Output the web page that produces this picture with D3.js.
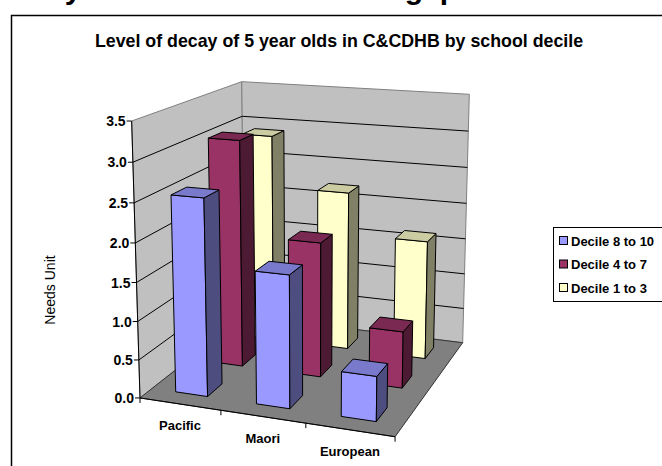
<!DOCTYPE html>
<html>
<head>
<meta charset="utf-8">
<script src="https://cdn.jsdelivr.net/npm/d3@7"></script>
<style>
  html, body { margin: 0; padding: 0; background: #fff; }
  svg { display: block; font-family: "Liberation Sans", Arial, sans-serif; }
</style>
</head>
<body>
<svg id="chart" width="662" height="466"></svg>
<script>
// ---- data ----
const categories = ["Pacific", "Maori", "European"];
const seriesNames = ["Decile 8 to 10", "Decile 4 to 7", "Decile 1 to 3"];
const decile8to10 = [2.55, 1.70, 0.57];
const decile4to7  = [3.05, 1.80, 0.75];
const decile1to3  = [2.90, 2.20, 1.63];
const yTicks = [0, 0.5, 1.0, 1.5, 2.0, 2.5, 3.0, 3.5];
const yTickLabels = ["0.0", "0.5", "1.0", "1.5", "2.0", "2.5", "3.0", "3.5"];
const seriesValues = [decile8to10, decile4to7, decile1to3];

// ---- styling ----
const faceColors = [
  { front: "#9999FF", top: "#7A7ACC", side: "#4D4D80" },
  { front: "#993366", top: "#7A2952", side: "#4D1A33" },
  { front: "#FFFFCC", top: "#CCCCA3", side: "#808066" }
];

// ---- 3D scales (unit box: x = category, y = value, z = series depth) ----
const xBand = d3.scaleBand().domain(categories).range([0, 1]).paddingInner(0.6).paddingOuter(0.3);
const zBand = d3.scaleBand().domain(seriesNames).range([0, 1]).paddingInner(0.6).paddingOuter(0.3);
const yVal = d3.scaleLinear().domain([0, 3.5]).range([0, 1]);

// Placement of the plot box on the page: unit-box corners -> screen points.
const boxPlacement = [
  [[0, 0, 0], [140.0, 398.0]],
  [[0, 1, 0], [131.7, 121.0]],
  [[0, 1, 1], [241.7, 81.7]],
  [[1, 1, 1], [469.3, 94.3]],
  [[1, 0, 1], [462.7, 342.7]],
  [[1, 0, 0], [395.0, 436.7]],
  [[0, 0, 1], [244.5, 315.7]],
  [[1, 1, 0], [399.6, 139.5]]
];

// Perspective camera fitted to the box placement (direct linear transform).
function fitPerspective(pairs) {
  const cx = 300, cy = 250, s = 300;
  const rows = [], rhs = [];
  pairs.forEach(([[X, Y, Z], [u0, v0]]) => {
    const u = (u0 - cx) / s, v = (v0 - cy) / s;
    rows.push([X, Y, Z, 1, 0, 0, 0, 0, -u * X, -u * Y, -u * Z]); rhs.push(u);
    rows.push([0, 0, 0, 0, X, Y, Z, 1, -v * X, -v * Y, -v * Z]); rhs.push(v);
  });
  const n = 11;
  const A = Array.from({ length: n }, () => new Array(n).fill(0));
  const b = new Array(n).fill(0);
  rows.forEach((r, k) => {
    for (let i = 0; i < n; i++) {
      b[i] += r[i] * rhs[k];
      for (let j = 0; j < n; j++) A[i][j] += r[i] * r[j];
    }
  });
  for (let c = 0; c < n; c++) {
    let p = c;
    for (let r = c + 1; r < n; r++) if (Math.abs(A[r][c]) > Math.abs(A[p][c])) p = r;
    [A[c], A[p]] = [A[p], A[c]]; [b[c], b[p]] = [b[p], b[c]];
    for (let r = c + 1; r < n; r++) {
      const f = A[r][c] / A[c][c];
      for (let j = c; j < n; j++) A[r][j] -= f * A[c][j];
      b[r] -= f * b[c];
    }
  }
  const m = new Array(n).fill(0);
  for (let i = n - 1; i >= 0; i--) {
    let t = b[i];
    for (let j = i + 1; j < n; j++) t -= A[i][j] * m[j];
    m[i] = t / A[i][i];
  }
  return ([X, Y, Z]) => {
    const w = m[8] * X + m[9] * Y + m[10] * Z + 1;
    return [
      cx + s * (m[0] * X + m[1] * Y + m[2] * Z + m[3]) / w,
      cy + s * (m[4] * X + m[5] * Y + m[6] * Z + m[7]) / w
    ];
  };
}
const project = fitPerspective(boxPlacement);
const poly = pts => pts.map(p => project(p).map(d => d.toFixed(2)).join(",")).join(" ");
const pathOf = pts => "M" + pts.map(p => project(p).map(d => d.toFixed(2)).join(",")).join("L");

const svg = d3.select("#chart");

// Slide heading running off the top of the page
svg.append("text")
  .attr("x", -7).attr("y", -1)
  .attr("font-size", 30).attr("font-weight", "bold").attr("fill", "#000")
  .text("Decay: the ethnic and decile gap");

// Chart area frame
svg.append("rect")
  .attr("x", 11.5).attr("y", 15.5).attr("width", 700).attr("height", 500)
  .attr("fill", "#fff").attr("stroke", "#000").attr("stroke-width", 1.5);

// Chart title
svg.append("text")
  .attr("x", 339).attr("y", 47)
  .attr("text-anchor", "middle")
  .attr("font-size", 17.8).attr("font-weight", "bold")
  .text("Level of decay of 5 year olds in C&CDHB by school decile");

// Walls and floor
const g = svg.append("g");
g.append("polygon").attr("points", poly([[0, 0, 0], [0, 1, 0], [0, 1, 1], [0, 0, 1]]))
  .attr("fill", "#C0C0C0").attr("stroke", "#808080");
g.append("polygon").attr("points", poly([[0, 0, 1], [1, 0, 1], [1, 1, 1], [0, 1, 1]]))
  .attr("fill", "#C0C0C0").attr("stroke", "#808080");
g.append("polygon").attr("points", poly([[0, 0, 0], [1, 0, 0], [1, 0, 1], [0, 0, 1]]))
  .attr("fill", "#808080").attr("stroke", "#333");

// Gridlines across the side and back walls
g.selectAll("path.grid")
  .data(yTicks.filter(t => t > 0 && t < 3.5))
  .join("path")
  .attr("class", "grid")
  .attr("d", t => pathOf([[0, yVal(t), 0], [0, yVal(t), 1], [1, yVal(t), 1]]))
  .attr("fill", "none").attr("stroke", "#000").attr("stroke-width", 1);

// Value axis
g.append("path").attr("d", pathOf([[0, 0, 0], [0, 1, 0]])).attr("stroke", "#000").attr("fill", "none");
yTicks.forEach((t, i) => {
  const [px, py] = project([0, yVal(t), 0]);
  g.append("line").attr("x1", px - 5).attr("x2", px).attr("y1", py).attr("y2", py).attr("stroke", "#000");
  g.append("text").attr("x", px - 6).attr("y", py).attr("dy", "0.36em")
    .attr("text-anchor", "end").attr("font-size", 14).attr("font-weight", "bold")
    .text(yTickLabels[i]);
});

// Category axis
g.append("path").attr("d", pathOf([[0, 0, 0], [1, 0, 0]])).attr("stroke", "#000").attr("fill", "none");
const boundaries = [0].concat(categories.map(c => xBand(c) - xBand.step() * xBand.paddingOuter() + xBand.step()));
boundaries.forEach(bx => {
  const [px, py] = project([bx, 0, 0]);
  g.append("line").attr("x1", px).attr("x2", px).attr("y1", py).attr("y2", py + 5).attr("stroke", "#000");
});
categories.forEach(c => {
  const [px, py] = project([xBand(c) + xBand.bandwidth() / 2, 0, 0]);
  g.append("text").attr("x", px).attr("y", py + 26)
    .attr("text-anchor", "middle").attr("font-size", 13).attr("font-weight", "bold")
    .text(c);
});

// Bars, painted back-to-front and left-to-right
const bars = [];
seriesNames.forEach((sName, si) => {
  categories.forEach((cat, ci) => {
    bars.push({ si, ci, value: seriesValues[si][ci], x0: xBand(cat), z0: zBand(sName) });
  });
});
bars.sort((a, b) => (b.z0 - a.z0) || (a.x0 - b.x0));
const bw = xBand.bandwidth(), bd = zBand.bandwidth();
const barG = g.append("g").attr("stroke", "#000").attr("stroke-width", 1).attr("stroke-linejoin", "round");
bars.forEach(b => {
  const x0 = b.x0, x1 = b.x0 + bw, z0 = b.z0, z1 = b.z0 + bd, h = yVal(b.value);
  const col = faceColors[b.si];
  barG.append("polygon").attr("points", poly([[x0, 0, z0], [x1, 0, z0], [x1, h, z0], [x0, h, z0]])).attr("fill", col.front);
  barG.append("polygon").attr("points", poly([[x1, 0, z0], [x1, 0, z1], [x1, h, z1], [x1, h, z0]])).attr("fill", col.side);
  barG.append("polygon").attr("points", poly([[x0, h, z0], [x1, h, z0], [x1, h, z1], [x0, h, z1]])).attr("fill", col.top);
});

// Axis title
svg.append("text")
  .attr("transform", "translate(55,290) rotate(-90)")
  .attr("text-anchor", "middle").attr("font-size", 14)
  .text("Needs Unit");

// Legend
const lg = svg.append("g");
lg.append("rect").attr("x", 553.5).attr("y", 227.5).attr("width", 115).attr("height", 74)
  .attr("fill", "#fff").attr("stroke", "#000");
seriesNames.forEach((name, i) => {
  const cy = 241 + i * 23.5;
  lg.append("rect").attr("x", 559.5).attr("y", cy - 4.5).attr("width", 8).attr("height", 8)
    .attr("fill", faceColors[i].front).attr("stroke", "#000");
  lg.append("text").attr("x", 571).attr("y", cy).attr("dy", "0.36em")
    .attr("font-size", 13).attr("font-weight", "bold").text(name);
});
</script>
</body>
</html>
